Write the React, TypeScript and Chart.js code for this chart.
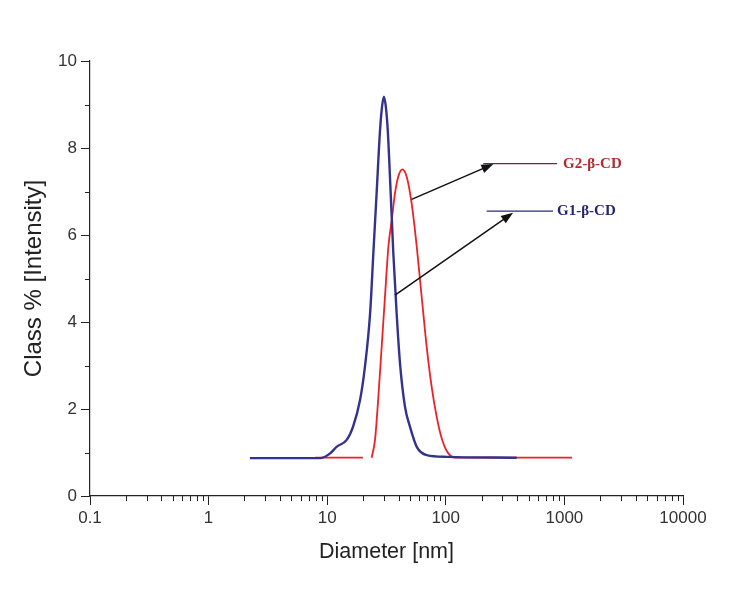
import React, { useEffect, useRef } from "react";
import { Chart, registerables } from "chart.js";

Chart.register(...registerables);

// ---- Axis ticks ----
const xTickValues = [0.1, 1, 10, 100, 1000, 10000];
const xTickLabels = ["0.1", "1", "10", "100", "1000", "10000"];
const yTickValues = [0, 2, 4, 6, 8, 10];
const yMinorValues = [1, 3, 5, 7, 9];

// ---- Series: G1-β-CD (blue) ----
const g1Diameter = [2.23, 8.7, 10.6, 12.0, 14.6, 16.5, 18.9, 20.8, 23.0, 24.5, 26.1, 27.9, 29.0, 30.1, 31.2, 32.4, 34.3, 36.1, 38.5, 41.1, 45.3, 49.9, 56.9, 69.0, 101.8, 396];
const g1Intensity = [0.87, 0.87, 0.98, 1.13, 1.29, 1.59, 2.2, 2.97, 4.2, 5.58, 6.96, 8.41, 8.95, 9.18, 8.95, 8.41, 6.96, 5.58, 4.2, 3.05, 2.05, 1.59, 1.13, 0.94, 0.9, 0.88];

// ---- Series: G2-β-CD (red) ----
const g2Diameter = [7.9, 20.0, 21.8, 23.7, 25.3, 27.0, 28.8, 30.7, 32.8, 35.0, 37.3, 39.7, 43.0, 46.8, 51.5, 56.9, 62.6, 69.0, 76.0, 83.8, 92.3, 105, 124, 1159];
const g2Intensity = [0.88, 0.88, null, 0.88, 1.29, 2.28, 3.43, 4.58, 5.73, 6.34, 6.96, 7.34, 7.51, 7.34, 6.73, 5.73, 4.58, 3.43, 2.51, 1.82, 1.33, 0.98, 0.88, 0.88];

// ---- Annotations (data coordinates) ----
const annoLabels = ["G2-β-CD", "G1-β-CD"];
const annoArrowFrom = [[51.5, 6.82], [37.3, 4.62]];
const annoArrowTo = [[252, 7.63], [369, 6.51]];
const annoLineX = [[207, 867], [221, 802]];
const annoLineY = [7.64, 6.55];
const annoLabelX = [973, 867];

const annoLineColors = ["#8b1f22", "#2a2a80"];
const annoTextColors = ["#b02a2e", "#26266e"];

const decorPlugin = {
  id: "decor",
  afterDraw(chart: any) {
    const { ctx, scales, chartArea } = chart;
    const x = scales.x;
    const y = scales.y;
    ctx.save();
    ctx.strokeStyle = "#222";
    ctx.lineWidth = 1;
    // minor x ticks
    for (let i = 0; i < xTickValues.length - 1; i++) {
      for (let m = 2; m <= 9; m++) {
        const px = Math.round(x.getPixelForValue(xTickValues[i] * m)) + 0.5;
        ctx.beginPath();
        ctx.moveTo(px, chartArea.bottom);
        ctx.lineTo(px, chartArea.bottom + 5);
        ctx.stroke();
      }
    }
    // minor y ticks
    for (const v of yMinorValues) {
      const py = Math.round(y.getPixelForValue(v)) + 0.5;
      ctx.beginPath();
      ctx.moveTo(chartArea.left - 5, py);
      ctx.lineTo(chartArea.left, py);
      ctx.stroke();
    }
    // annotations
    for (let i = 0; i < annoLabels.length; i++) {
      const ly = y.getPixelForValue(annoLineY[i]);
      ctx.strokeStyle = annoLineColors[i];
      ctx.lineWidth = 1.2;
      ctx.beginPath();
      ctx.moveTo(x.getPixelForValue(annoLineX[i][0]), ly);
      ctx.lineTo(x.getPixelForValue(annoLineX[i][1]), ly);
      ctx.stroke();
      const x0 = x.getPixelForValue(annoArrowFrom[i][0]);
      const y0 = y.getPixelForValue(annoArrowFrom[i][1]);
      const x1 = x.getPixelForValue(annoArrowTo[i][0]);
      const y1 = y.getPixelForValue(annoArrowTo[i][1]);
      const ang = Math.atan2(y1 - y0, x1 - x0);
      const hl = 12;
      const hw = 4.5;
      ctx.strokeStyle = "#111";
      ctx.fillStyle = "#111";
      ctx.lineWidth = 1.5;
      ctx.beginPath();
      ctx.moveTo(x0, y0);
      ctx.lineTo(x1 - Math.cos(ang) * hl * 0.7, y1 - Math.sin(ang) * hl * 0.7);
      ctx.stroke();
      ctx.beginPath();
      ctx.moveTo(x1, y1);
      const bx = x1 - Math.cos(ang) * hl;
      const by = y1 - Math.sin(ang) * hl;
      ctx.lineTo(bx - Math.sin(ang) * hw, by + Math.cos(ang) * hw);
      ctx.lineTo(bx + Math.sin(ang) * hw, by - Math.cos(ang) * hw);
      ctx.closePath();
      ctx.fill();
      ctx.fillStyle = annoTextColors[i];
      ctx.font = "bold 15px 'Liberation Serif', 'DejaVu Serif', serif";
      ctx.textAlign = "left";
      ctx.textBaseline = "middle";
      ctx.fillText(annoLabels[i], x.getPixelForValue(annoLabelX[i]), ly);
    }
    ctx.restore();
  },
};

export default function App() {
  const ref = useRef<HTMLCanvasElement | null>(null);
  useEffect(() => {
    if (!ref.current) return;
    const tickFont = { family: "'Liberation Sans', Arial, sans-serif", size: 17 };
    const xTitleFont = { family: "'Liberation Sans', Arial, sans-serif", size: 21.5 };
    const yTitleFont = { family: "'Liberation Sans', Arial, sans-serif", size: 24 };
    const chart = new Chart(ref.current, {
      type: "line",
      data: {
        datasets: [
          {
            label: "G1-β-CD",
            data: g1Diameter.map((d, i) => ({ x: d, y: g1Intensity[i] })),
            borderColor: "#33338f",
            borderWidth: 2.4,
            pointRadius: 0,
            cubicInterpolationMode: "monotone",
            fill: false,
          },
          {
            label: "G2-β-CD",
            data: g2Diameter.map((d, i) => ({ x: d, y: g2Intensity[i] as any })),
            borderColor: "#ec2227",
            borderWidth: 1.8,
            pointRadius: 0,
            cubicInterpolationMode: "monotone",
            spanGaps: false,
            fill: false,
          },
        ],
      },
      options: {
        animation: false,
        responsive: false,
        maintainAspectRatio: false,
        layout: { padding: { left: 0, top: 61, right: 50, bottom: 0 } },
        plugins: { legend: { display: false }, tooltip: { enabled: false } },
        scales: {
          x: {
            type: "logarithmic",
            min: 0.1,
            max: 10000,
            afterBuildTicks: (scale: any) => {
              scale.ticks = xTickValues.map((v) => ({ value: v }));
            },
            afterFit: (scale: any) => {
              scale.height = 98;
            },
            ticks: {
              autoSkip: false,
              maxRotation: 0,
              color: "#333",
              font: tickFont,
              padding: 3,
              callback: (v: any) => {
                const idx = xTickValues.findIndex((t) => Math.abs(t - Number(v)) < 1e-9 * Math.max(1, t));
                return idx >= 0 ? xTickLabels[idx] : "";
              },
            },
            grid: { drawOnChartArea: false, drawTicks: true, tickLength: 9, tickColor: "#222", tickWidth: 1 },
            border: { display: true, color: "#222", width: 1.2 },
            title: { display: true, text: "Diameter [nm]", color: "#222", font: xTitleFont, padding: { top: 0, bottom: 29 } },
          },
          y: {
            type: "linear",
            min: 0,
            max: 10,
            afterBuildTicks: (scale: any) => {
              scale.ticks = yTickValues.map((v) => ({ value: v }));
            },
            afterFit: (scale: any) => {
              scale.width = 90;
            },
            ticks: { color: "#333", font: tickFont, padding: 4 },
            grid: { drawOnChartArea: false, drawTicks: true, tickLength: 9, tickColor: "#222", tickWidth: 1 },
            border: { display: true, color: "#222", width: 1.2 },
            title: { display: true, text: "Class % [Intensity]", color: "#222", font: yTitleFont, padding: { top: 19.5, bottom: 0 } },
          },
        },
      },
      plugins: [decorPlugin],
    } as any);
    return () => chart.destroy();
  }, []);
  return (
    <div style={{ position: "absolute", left: 0, top: 0, width: 733, height: 594, background: "#fff" }}>
      <canvas ref={ref} width={733} height={594} style={{ width: 733, height: 594 }} />
    </div>
  );
}
